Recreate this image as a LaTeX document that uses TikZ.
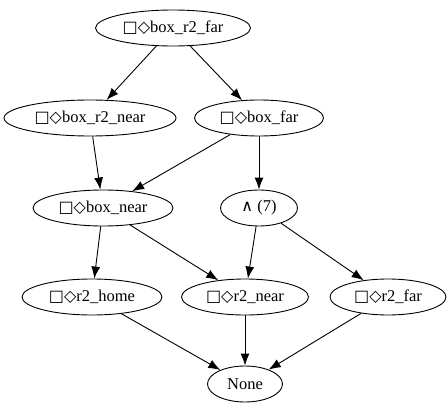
\documentclass[tikz,border=0pt]{standalone}
\usepackage{fontspec}
\setmainfont{Liberation Serif}
\newfontfamily\symfont{DejaVu Sans}
\usetikzlibrary{shapes.geometric,arrows.meta}

\newcommand{\bd}{{\symfont\fontsize{16}{18}\selectfont □◇}}

\tikzset{
  state/.style={draw,ellipse,line width=0.9pt,inner sep=0pt,minimum height=36,font=\fontsize{16.5}{18}\selectfont},
  edge/.style={line width=0.9pt,-{Latex[length=12pt,width=9pt]}}
}

\begin{document}
\begin{tikzpicture}[x=1pt,y=1pt,yscale=-1,xscale=1]
        \useasboundingbox (0,0) rectangle (448,415);

        % Nodes
        \node [state,minimum width=155] (boxrtwofar) at (173,28) {\bd box\_r2\_far};
        \node [state,minimum width=172] (boxrtwonear) at (90,118) {\bd box\_r2\_near};
        \node [state,minimum width=129] (boxfar) at (259,118) {\bd box\_far};
        \node [state,minimum width=140] (boxnear) at (103,208) {\bd box\_near};
        \node [state,minimum width=77] (andseven) at (259,208) {{\symfont\fontsize{16}{18}\selectfont ∧} (7)};
        \node [state,minimum width=140] (rtwohome) at (92,297) {\bd r2\_home};
        \node [state,minimum width=127] (rtwonear) at (245,297) {\bd r2\_near};
        \node [state,minimum width=116] (rtwofar) at (388,297) {\bd r2\_far};
        \node [state,minimum width=75] (none) at (245,384) {None};

        % Edges
        \draw [edge] (boxrtwofar) -- (boxrtwonear);
        \draw [edge] (boxrtwofar) -- (boxfar);
        \draw [edge] (boxrtwonear) -- (boxnear);
        \draw [edge] (boxfar) -- (boxnear);
        \draw [edge] (boxfar) -- (andseven);
        \draw [edge] (boxnear) -- (rtwohome);
        \draw [edge] (boxnear) -- (rtwonear);
        \draw [edge] (andseven) -- (rtwonear);
        \draw [edge] (andseven) -- (rtwofar);
        \draw [edge] (rtwohome) -- (none);
        \draw [edge] (rtwonear) -- (none);
        \draw [edge] (rtwofar) -- (none);

\end{tikzpicture}
\end{document}
